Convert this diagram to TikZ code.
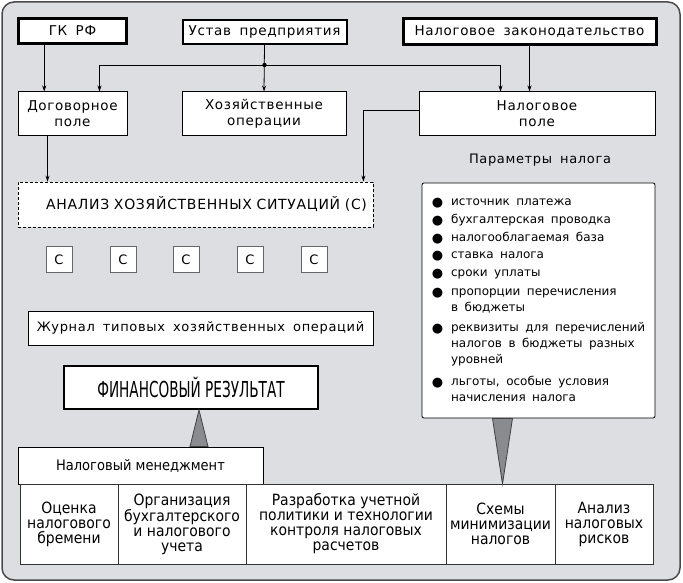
\documentclass[tikz,border=0pt]{standalone}
\usepackage{fontspec}
\setmainfont{DejaVu Sans}[WordSpace=1.7]
\newfontfamily\widefont{DejaVu Sans}[WordSpace=1.7,LetterSpace=5]
\newfontfamily\narrowfont{DejaVu Sans}[FakeStretch=0.9]
\newfontfamily\finfont{DejaVu Sans}[FakeStretch=0.62]
\usetikzlibrary{arrows.meta,positioning}
\definecolor{bggray}{HTML}{DDDEE2}
\definecolor{framegray}{HTML}{4A4A4C}
\definecolor{trigray}{HTML}{8A8B8F}
\newcommand{\bul}{\raisebox{-1pt}{\fontsize{13}{13}\selectfont ●}}

\begin{document}
\begin{tikzpicture}[x=1pt,y=-1pt,
  box/.style={draw,fill=white,line width=1pt,inner sep=2pt,align=center,
    font=\widefont\fontsize{13.5}{16}\selectfont},
  arr/.style={-{Stealth[length=6pt,width=4pt]},line width=0.8pt},
  cbox/.style={draw=black!60,fill=white,minimum size=26pt,inner sep=0pt,
    font=\fontsize{13}{15}\selectfont},
  cell/.style={draw=black!80,fill=white,line width=0.8pt,minimum height=80pt,
    inner sep=1pt,outer sep=0pt,align=center,
    font=\narrowfont\fontsize{15.5}{15}\selectfont},
  tri/.style={fill=trigray,draw=black!75,line width=0.8pt}]
  \useasboundingbox (0,0) rectangle (683,583);
  % frame
  \draw[draw=framegray,fill=bggray,line width=1.5pt,rounded corners=12pt]
    (2,2) rectangle (680,580);

  % top row: sources
  \node[box,line width=2.5pt,minimum width=108pt,minimum height=25pt] (gk) at (72.5,31) {ГК РФ};
  \node[box,line width=2pt,minimum width=164pt,minimum height=24pt] (ustav) at (264.5,32) {Устав предприятия};
  \node[box,line width=3pt,minimum width=253pt,minimum height=26pt] (nzak) at (529.5,32) {Налоговое законодательство};

  % second row: fields
  \node[box,minimum width=109pt,minimum height=44pt] (dog) at (72.5,114) {Договорное\\поле};
  \node[box,minimum width=164pt,minimum height=44pt] (hoz) at (264,114) {Хозяйственные\\операции};
  \node[box,minimum width=236pt,minimum height=44pt] (npole) at (537,114) {Налоговое\\поле};

  % analysis and situations
  \node[box,dash pattern=on 3pt off 2pt,line width=0.8pt,minimum height=45pt,
    text width=343pt,inner xsep=6pt,align=right,font=\widefont\fontsize{14}{16}\selectfont]
    (analiz) at (195.5,204.5) {АНАЛИЗ ХОЗЯЙСТВЕННЫХ СИТУАЦИЙ (С)};
  \foreach \i/\x in {1/59,2/123,3/186,4/250,5/314}
    \node[cbox] (c\i) at (\x,259.5) {С};

  \node[box,minimum width=345pt,minimum height=34pt,font=\widefont\fontsize{13}{15}\selectfont]
    (zhurnal) at (200.5,328) {Журнал типовых хозяйственных операций};
  \node[box,line width=2pt,minimum width=254pt,minimum height=43pt,
    font=\finfont\fontsize{22}{24}\selectfont] (fin) at (191,387.5) {ФИНАНСОВЫЙ РЕЗУЛЬТАТ};

  % tax parameters
  \node[font=\widefont\fontsize{13}{15}\selectfont] (ptitle) at (540,160) {Параметры налога};
  \node[draw,fill=white,line width=0.8pt,rounded corners=2pt,minimum width=233pt,
    minimum height=235pt,inner sep=0pt,font=\fontsize{12}{16}\selectfont] (param) at (538.5,300.5) {%
    \begin{tabular}{@{}l@{\hspace{8pt}}l@{}}
      \bul & источник платежа\\[2pt]
      \bul & бухгалтерская проводка\\[2pt]
      \bul & налогооблагаемая база\\[1pt]
      \bul & ставка налога\\[2pt]
      \bul & сроки уплаты\\[3pt]
      \bul & пропорции перечисления\\
           & в бюджеты\\[4pt]
      \bul & реквизиты для перечислений\\
           & налогов в бюджеты разных\\
           & уровней\\[6pt]
      \bul & льготы, особые условия\\
           & начисления налога
    \end{tabular}};

  % tax management table
  \node[box,font=\narrowfont\fontsize{14.5}{16}\selectfont,minimum width=245pt,
    minimum height=37pt] (nman) at (140.5,465.5) {Налоговый менеджмент};
  \node[cell,minimum width=98pt,anchor=north west] (t1) at (20,484) {Оценка\\налогового\\бремени};
  \node[cell,minimum width=128pt,right=0pt of t1] (t2) {Организация\\бухгалтерского\\и налогового\\учета};
  \node[cell,minimum width=200pt,right=0pt of t2] (t3) {Разработка учетной\\политики и технологии\\контроля налоговых\\расчетов};
  \node[cell,minimum width=109pt,right=0pt of t3] (t4) {Схемы\\минимизации\\налогов};
  \node[cell,minimum width=98pt,right=0pt of t4] (t5) {Анализ\\налоговых\\рисков};

  % connectors
  \coordinate (jn) at (ustav.south |- 0,65);
  \draw[arr] (ustav.south) -- (hoz.north);
  \fill (jn) circle (2.2pt);
  \draw[arr] (jn) -| ([xshift=82pt]dog.north west);
  \draw[arr] (jn) -| ([xshift=82pt]npole.north west);
  \draw[arr] ([xshift=27pt]gk.south west) -- ([xshift=27pt]gk.south west |- dog.north);
  \draw[arr] (nzak.south) -- (nzak.south |- npole.north);
  \draw[arr] ([yshift=4pt]npole.west) -| ([xshift=-10pt]analiz.north east);
  \draw[arr] ([xshift=30pt]dog.south west) -- ([xshift=30pt]dog.south west |- analiz.north);

  % pointers
  \filldraw[tri] ([xshift=8pt]fin.south) -- ([xshift=-1pt]fin.south |- nman.north)
    -- ([xshift=17pt]fin.south |- nman.north) -- cycle;
  \filldraw[tri] ([xshift=-46pt]param.south) -- ([xshift=-26pt]param.south)
    -- ([xshift=2pt]t4.north) -- cycle;
\end{tikzpicture}
\end{document}
